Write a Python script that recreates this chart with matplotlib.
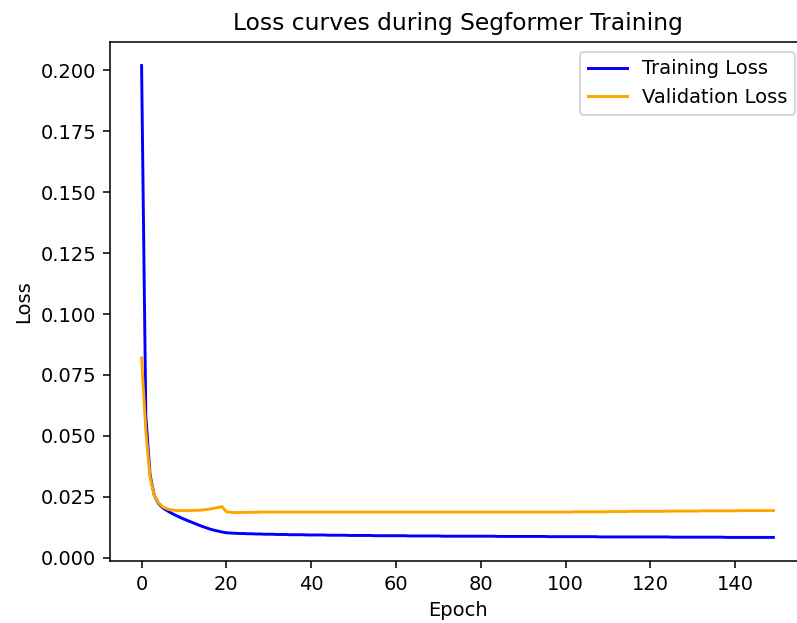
import matplotlib
matplotlib.use("Agg")
import matplotlib.pyplot as plt

# per-epoch losses (150 epochs)
train_loss = [
    0.2020, 0.0580, 0.0340, 0.0255, 0.0222, 0.0204, 0.0193, 0.0183, 0.0174, 0.0166,
    0.0158, 0.0151, 0.0144, 0.0137, 0.0130, 0.0124, 0.0118, 0.0113, 0.0109, 0.0105,
    0.0102, 0.0101, 0.0100, 0.0099, 0.0099, 0.0098, 0.0098, 0.0097, 0.0097, 0.0096,
    0.0096, 0.0096, 0.0095, 0.0095, 0.0095, 0.0094, 0.0094, 0.0094, 0.0094, 0.0093,
    0.0093, 0.0093, 0.0093, 0.0093, 0.0092, 0.0092, 0.0092, 0.0092, 0.0092, 0.0091,
    0.0091, 0.0091, 0.0091, 0.0091, 0.0091, 0.0090, 0.0090, 0.0090, 0.0090, 0.0090,
    0.0090, 0.0090, 0.0090, 0.0089, 0.0089, 0.0089, 0.0089, 0.0089, 0.0089, 0.0089,
    0.0089, 0.0088, 0.0088, 0.0088, 0.0088, 0.0088, 0.0088, 0.0088, 0.0088, 0.0088,
    0.0088, 0.0088, 0.0088, 0.0088, 0.0087, 0.0087, 0.0087, 0.0087, 0.0087, 0.0087,
    0.0087, 0.0087, 0.0087, 0.0087, 0.0087, 0.0087, 0.0086, 0.0086, 0.0086, 0.0086,
    0.0086, 0.0086, 0.0086, 0.0086, 0.0086, 0.0086, 0.0086, 0.0086, 0.0085, 0.0085,
    0.0085, 0.0085, 0.0085, 0.0085, 0.0085, 0.0085, 0.0085, 0.0085, 0.0085, 0.0085,
    0.0085, 0.0085, 0.0085, 0.0085, 0.0085, 0.0084, 0.0084, 0.0084, 0.0084, 0.0084,
    0.0084, 0.0084, 0.0084, 0.0084, 0.0084, 0.0084, 0.0084, 0.0084, 0.0083, 0.0083,
    0.0083, 0.0083, 0.0083, 0.0083, 0.0083, 0.0083, 0.0083, 0.0083, 0.0083, 0.0083,
]
val_loss = [
    0.0820, 0.0520, 0.0330, 0.0255, 0.0225, 0.0208, 0.0200, 0.0196, 0.0194, 0.0193,
    0.0193, 0.0193, 0.0194, 0.0194, 0.0195, 0.0197, 0.0199, 0.0202, 0.0206, 0.0209,
    0.0188, 0.0186, 0.0185, 0.0185, 0.0186, 0.0186, 0.0186, 0.0186, 0.0187, 0.0187,
    0.0187, 0.0187, 0.0187, 0.0187, 0.0187, 0.0187, 0.0187, 0.0187, 0.0187, 0.0187,
    0.0187, 0.0187, 0.0187, 0.0187, 0.0187, 0.0187, 0.0187, 0.0187, 0.0187, 0.0187,
    0.0187, 0.0187, 0.0187, 0.0187, 0.0187, 0.0187, 0.0187, 0.0187, 0.0187, 0.0187,
    0.0187, 0.0187, 0.0187, 0.0187, 0.0187, 0.0187, 0.0187, 0.0187, 0.0187, 0.0187,
    0.0187, 0.0187, 0.0187, 0.0187, 0.0187, 0.0187, 0.0187, 0.0187, 0.0187, 0.0187,
    0.0187, 0.0187, 0.0187, 0.0187, 0.0187, 0.0187, 0.0187, 0.0187, 0.0187, 0.0187,
    0.0187, 0.0187, 0.0187, 0.0187, 0.0187, 0.0187, 0.0187, 0.0187, 0.0187, 0.0187,
    0.0187, 0.0187, 0.0188, 0.0188, 0.0188, 0.0188, 0.0188, 0.0188, 0.0188, 0.0188,
    0.0189, 0.0189, 0.0189, 0.0189, 0.0189, 0.0190, 0.0190, 0.0190, 0.0190, 0.0190,
    0.0190, 0.0190, 0.0190, 0.0190, 0.0191, 0.0191, 0.0191, 0.0191, 0.0191, 0.0191,
    0.0191, 0.0191, 0.0192, 0.0192, 0.0192, 0.0192, 0.0192, 0.0192, 0.0192, 0.0192,
    0.0192, 0.0193, 0.0193, 0.0193, 0.0193, 0.0193, 0.0193, 0.0193, 0.0193, 0.0193,
]
epochs = list(range(len(train_loss)))

W, H = 797, 623
fig = plt.figure(figsize=(W / 140, H / 140), dpi=140)
# axes runs slightly past the right edge, like the cropped reference
ax = fig.add_axes([110 / W, (H - 561) / H, 695 / W, 519 / H])

ax.plot(epochs, train_loss, color="blue", label="Training Loss")
ax.plot(epochs, val_loss, color="orange", label="Validation Loss")
ax.set_title("Loss curves during Segformer Training")
ax.set_xlabel("Epoch")
ax.set_ylabel("Loss")
ax.legend()

fig.savefig("out.png", dpi=140)
plt.close(fig)
